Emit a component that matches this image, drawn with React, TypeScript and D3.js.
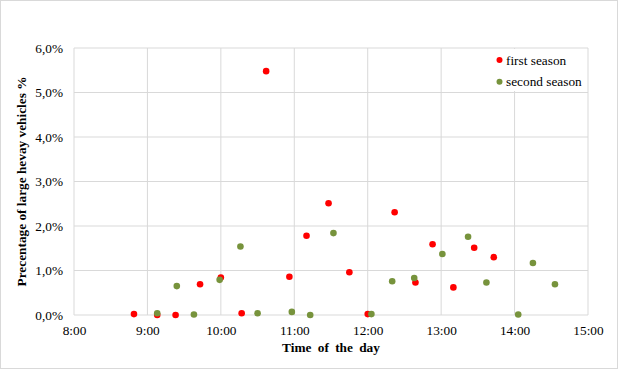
import { useEffect, useRef } from 'react'
import * as d3 from 'd3'

// first season observations (time of day, share of large heavy vehicles in %)
const firstTimes = ['8:49', '9:08', '9:23', '9:43', '10:00', '10:17', '10:37', '10:56', '11:10', '11:28', '11:45', '12:00', '12:22', '12:39', '12:53', '13:10', '13:27', '13:43']
const firstValues = [0.02, 0.0, 0.0, 0.69, 0.84, 0.04, 5.48, 0.86, 1.78, 2.51, 0.96, 0.02, 2.31, 0.73, 1.59, 0.62, 1.51, 1.30]

// second season observations
const secondTimes = ['9:08', '9:24', '9:38', '9:59', '10:16', '10:30', '10:58', '11:13', '11:32', '12:03', '12:20', '12:38', '13:01', '13:22', '13:37', '14:03', '14:15', '14:33']
const secondValues = [0.04, 0.65, 0.01, 0.79, 1.54, 0.04, 0.07, 0.0, 1.84, 0.02, 0.76, 0.83, 1.37, 1.76, 0.73, 0.01, 1.17, 0.69]

const xTicks = ['8:00', '9:00', '10:00', '11:00', '12:00', '13:00', '14:00', '15:00']
const yTicks = [0, 1, 2, 3, 4, 5, 6]

const seriesNames = ['first season', 'second season']
const seriesColors = ['#ff0000', '#77933c']

const width = 620
const height = 372
const margin = { top: 48, right: 32, bottom: 57, left: 74 }
const font = '"Liberation Serif", "Times New Roman", serif'
const gridColor = '#d9d9d9'

export default function App() {
  const svgRef = useRef<SVGSVGElement>(null)

  useEffect(() => {
    if (!svgRef.current) return
    const svg = d3.select(svgRef.current)
    svg.selectAll('*').remove()

    const parse = d3.timeParse('%H:%M')
    const toDate = (s: string) => parse(s) as Date

    const x = d3.scaleTime()
      .domain([toDate(xTicks[0]), toDate(xTicks[xTicks.length - 1])])
      .range([margin.left, width - margin.right])

    const y = d3.scaleLinear()
      .domain([0, 6])
      .range([height - margin.bottom, margin.top])

    const locale = d3.formatLocale({ decimal: ',', thousands: '.', grouping: [3], currency: ['', ''] })
    const pct = locale.format('.1f')

    // chart area border
    svg.append('rect')
      .attr('x', 0.5).attr('y', 0.5)
      .attr('width', width - 3).attr('height', height - 4)
      .attr('fill', '#fff')
      .attr('stroke', gridColor)

    // horizontal gridlines
    svg.append('g')
      .selectAll('line')
      .data(yTicks)
      .enter()
      .append('line')
      .attr('x1', margin.left).attr('x2', width - margin.right)
      .attr('y1', d => y(d)).attr('y2', d => y(d))
      .attr('stroke', gridColor)
      .attr('stroke-width', 1)

    // vertical gridlines
    svg.append('g')
      .selectAll('line')
      .data(xTicks)
      .enter()
      .append('line')
      .attr('x1', d => x(toDate(d))).attr('x2', d => x(toDate(d)))
      .attr('y1', margin.top).attr('y2', height - margin.bottom)
      .attr('stroke', gridColor)
      .attr('stroke-width', 1)

    // x axis labels
    const xAxis = svg.append('g')
      .attr('transform', `translate(0,${height - margin.bottom})`)
      .call(d3.axisBottom(x)
        .tickValues(xTicks.map(toDate))
        .tickFormat(d3.timeFormat('%-H:%M') as any)
        .tickSize(0)
        .tickPadding(11))
      .attr('font-family', font)
      .attr('font-size', 13.3)
    xAxis.select('.domain').remove()
    xAxis.selectAll('text')
      .attr('font-family', font)
      .attr('font-size', 13.3)
      .attr('fill', '#000')

    // y axis labels
    const yAxis = svg.append('g')
      .attr('transform', `translate(${margin.left},0)`)
      .call(d3.axisLeft(y)
        .tickValues(yTicks)
        .tickFormat(d => pct(d as number) + '%')
        .tickSize(0)
        .tickPadding(11))
      .attr('font-family', font)
      .attr('font-size', 13.3)
    yAxis.select('.domain').remove()
    yAxis.selectAll('text')
      .attr('font-family', font)
      .attr('font-size', 13.3)
      .attr('fill', '#000')

    // axis titles
    svg.append('text')
      .attr('x', (margin.left + width - margin.right) / 2)
      .attr('y', 352)
      .attr('text-anchor', 'middle')
      .attr('font-family', font)
      .attr('font-size', 13.3)
      .attr('font-weight', 'bold')
      .attr('word-spacing', 3)
      .text('Time of the day')

    svg.append('text')
      .attr('transform', `translate(26,${(margin.top + height - margin.bottom) / 2}) rotate(-90)`)
      .attr('text-anchor', 'middle')
      .attr('font-family', font)
      .attr('font-size', 13.3)
      .attr('font-weight', 'bold')
      .text('Precentage of large hevay vehicles %')

    // points
    const series = [
      firstTimes.map((t, i) => ({ t, v: firstValues[i] })),
      secondTimes.map((t, i) => ({ t, v: secondValues[i] }))
    ]
    series.forEach((pts, si) => {
      svg.append('g')
        .selectAll('circle')
        .data(pts)
        .enter()
        .append('circle')
        .attr('cx', d => x(toDate(d.t)))
        .attr('cy', d => y(d.v))
        .attr('r', 3.3)
        .attr('fill', seriesColors[si])
    })

    // legend
    const legend = svg.append('g')
    legend.append('rect')
      .attr('x', 494).attr('y', 49)
      .attr('width', 93).attr('height', 42)
      .attr('fill', '#fff')
    seriesNames.forEach((name, i) => {
      const ly = 60 + i * 21.7
      legend.append('circle')
        .attr('cx', 499.5).attr('cy', ly)
        .attr('r', 3)
        .attr('fill', seriesColors[i])
      legend.append('text')
        .attr('x', 506).attr('y', ly + 4.5)
        .attr('font-family', font)
        .attr('font-size', 13.3)
        .text(name)
    })
  }, [])

  return (
    <svg
      ref={svgRef}
      width={width}
      height={height}
      style={{ position: 'absolute', left: 0, top: 0 }}
    />
  )
}
